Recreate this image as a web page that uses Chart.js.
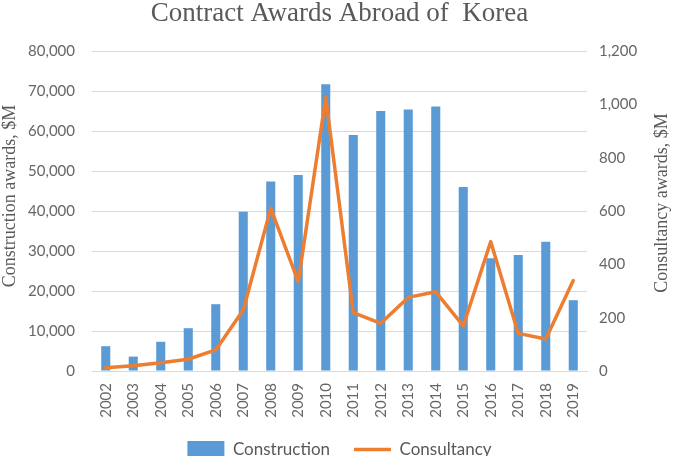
<!DOCTYPE html>
<html>
<head>
<meta charset="utf-8">
<script src="https://cdn.jsdelivr.net/npm/chart.js@4/dist/chart.umd.min.js"></script>
<style>
    html, body { margin: 0; padding: 0; background: #fff; overflow: hidden; }
    canvas { display: block; }
</style>
</head>
<body>
<canvas id="chart" width="679" height="468"></canvas>
<script>
const years = ['2002', '2003', '2004', '2005', '2006', '2007', '2008', '2009', '2010',
    '2011', '2012', '2013', '2014', '2015', '2016', '2017', '2018', '2019'];
const construction = [6200, 3600, 7300, 10700, 16700, 39800, 47400, 49000, 71700,
    59000, 65000, 65400, 66100, 46000, 28200, 29000, 32300, 17700];
const consultancy = [12, 20, 31, 44, 79, 229, 610, 335, 1026,
    219, 179, 276, 297, 169, 485, 141, 120, 339];
const leftAxis = { max: 80000, step: 10000, title: 'Construction awards, $M' };
const rightAxis = { max: 1200, step: 200, title: 'Consultancy awards, $M' };

const grey = '#595959';
const tickGrey = '#666666';
const tickFont = { family: 'Lato', size: 15 };

// axis titles drawn by hand: both read bottom-to-top like the original
const axisTitles = {
    id: 'axisTitles',
    afterDraw(chart) {
        const { ctx, chartArea } = chart;
        const mid = (chartArea.top + chartArea.bottom) / 2;
        ctx.save();
        ctx.font = '18px "Liberation Serif"';
        ctx.fillStyle = grey;
        ctx.textAlign = 'center';
        ctx.textBaseline = 'middle';
        [[10, mid - 15, leftAxis.title], [662, mid - 8, rightAxis.title]].forEach(([x, y, text]) => {
            ctx.save();
            ctx.translate(x, y);
            ctx.rotate(-Math.PI / 2);
            ctx.fillText(text, 0, 0);
            ctx.restore();
        });
        ctx.restore();
    },
};

const fmt = (v) => Number(v).toLocaleString('en-US');

new Chart(document.getElementById('chart'), {
    data: {
        labels: years,
        datasets: [{
            type: 'bar',
            label: 'Construction',
            data: construction,
            backgroundColor: '#5b9bd5',
            borderWidth: 0,
            barPercentage: 0.33,
            categoryPercentage: 1,
            pointStyle: 'rect',
            yAxisID: 'y',
            order: 2,
        }, {
            type: 'line',
            label: 'Consultancy',
            data: consultancy,
            borderColor: '#ed7d31',
            backgroundColor: '#ed7d31',
            borderWidth: 3.5,
            borderJoinStyle: 'round',
            borderCapStyle: 'round',
            pointRadius: 0,
            pointStyle: 'line',
            tension: 0,
            yAxisID: 'y1',
            order: 1,
        }],
    },
    options: {
        responsive: false,
        animation: false,
        layout: { padding: 0 },
        plugins: {
            title: {
                display: true,
                text: 'Contract Awards Abroad of  Korea',
                color: grey,
                font: { family: 'Liberation Serif', size: 27, weight: 'normal', lineHeight: 1 },
                padding: { top: 0, bottom: 24 },
            },
            legend: {
                position: 'bottom',
                labels: {
                    usePointStyle: true,
                    pointStyleWidth: 37,
                    padding: 24,
                    color: grey,
                    font: { family: 'Lato', size: 17 },
                    sort: (a, b) => a.datasetIndex - b.datasetIndex,
                },
            },
            tooltip: { enabled: false },
        },
        scales: {
            x: {
                grid: { display: false, drawTicks: false },
                border: { color: '#d9d9d9' },
                ticks: { color: tickGrey, font: tickFont, minRotation: 90, maxRotation: 90, padding: 12 },
                afterFit: (s) => { s.height = 46; },
            },
            y: {
                position: 'left',
                min: 0,
                max: leftAxis.max,
                grid: { color: '#d9d9d9', drawTicks: false },
                border: { display: false },
                ticks: { stepSize: leftAxis.step, color: tickGrey, font: tickFont, padding: 17, callback: fmt },
                afterFit: (s) => { s.width = 92; },
            },
            y1: {
                position: 'right',
                min: 0,
                max: rightAxis.max,
                grid: { display: false, drawTicks: false },
                border: { display: false },
                ticks: { stepSize: rightAxis.step, color: tickGrey, font: tickFont, padding: 12, callback: fmt },
                afterFit: (s) => { s.width = 92; },
            },
        },
    },
    plugins: [axisTitles],
});
</script>
</body>
</html>
